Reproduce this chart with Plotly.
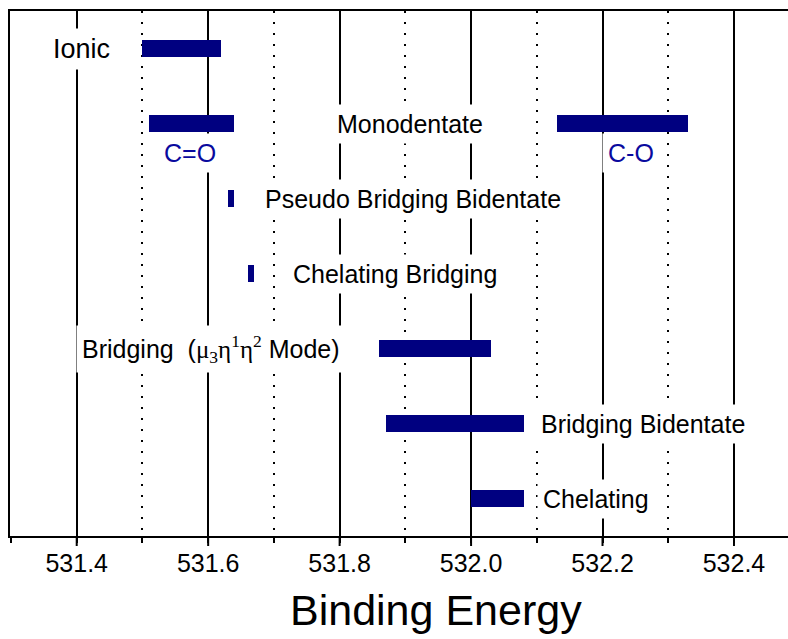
import plotly.graph_objects as go

# ---- data ----
rows = [0, 1, 1, 2, 3, 4, 5, 6]
starts = [531.50, 531.51, 532.13, 531.63, 531.66, 531.86, 531.87, 532.00]
ends = [531.62, 531.64, 532.33, 531.64, 531.67, 532.03, 532.08, 532.08]

label_texts = [
    "Ionic",
    "Monodentate",
    "C=O",
    "C-O",
    "Pseudo Bridging Bidentate",
    "Chelating Bridging",
    "Bridging\u00a0\u00a0(<span style=\"font-family:'Liberation Serif', 'Times New Roman'\">μ<sub>3</sub>η<sup>1</sup>η<sup>2</sup></span> Mode)",
    "Bridging Bidentate",
    "Chelating",
]
label_x = [531.4075, 531.9078, 531.5725, 532.2434, 531.9123, 531.8845, 531.6036, 532.262, 532.19]
label_y = [0, 1, 1.39, 1.39, 2, 3, 4, 5, 6]
label_colors = ["black", "black", "#0a0a9e", "#0a0a9e", "black", "black", "black", "black", "black"]
label_sizes = [27, 25, 25, 25, 25, 25, 25, 25, 25]

tick_vals = [531.4, 531.6, 531.8, 532.0, 532.2, 532.4]
tick_text = ["531.4", "531.6", "531.8", "532.0", "532.2", "532.4"]
x_title = "Binding Energy"

FONT = "Arial, 'Liberation Sans', sans-serif"
PLOT_H = 639 - 11 - 103
PLOT_W = 788 - 10

fig = go.Figure()
fig.add_trace(go.Bar(
    orientation="h",
    y=rows,
    x=[e - s for s, e in zip(starts, ends)],
    base=starts,
    width=0.225,
    marker=dict(color="#000080", line=dict(width=0)),
    showlegend=False,
    hoverinfo="skip",
))

for t, x, y, c, s in zip(label_texts, label_x, label_y, label_colors, label_sizes):
    fig.add_annotation(
        x=x, y=y, xref="x", yref="y", text=t, showarrow=False,
        xanchor="center", yanchor="middle",
        font=dict(family=FONT, size=s, color=c),
        bgcolor="white", borderpad=5,
    )

# major tick marks (outside, 10px)
for tv in tick_vals:
    fig.add_shape(type="line", xref="x", yref="paper", x0=tv, x1=tv,
                  y0=0, y1=-10 / PLOT_H, line=dict(color="black", width=2))

# axis title
fig.add_annotation(
    x=(436 - 10) / PLOT_W, y=-74 / PLOT_H, xref="paper", yref="paper",
    text=x_title, showarrow=False, xanchor="center", yanchor="middle",
    font=dict(family=FONT, size=43, color="black"),
)

fig.update_layout(
    width=788, height=639,
    margin=dict(l=10, r=0, t=11, b=103),
    paper_bgcolor="white", plot_bgcolor="white",
    font=dict(family=FONT, color="black"),
    bargap=0,
    xaxis=dict(
        range=[531.2985, 532.4822],
        tickmode="array", tickvals=tick_vals, ticktext=tick_text,
        tickfont=dict(size=25, family=FONT, color="black"),
        ticks="outside", ticklen=4, tickwidth=2, tickcolor="black",
        showline=True, linewidth=2, linecolor="black", mirror=True,
        showgrid=True, gridcolor="black", gridwidth=2,
        zeroline=False,
        minor=dict(dtick=0.1, tick0=531.3, ticks="outside", ticklen=5, tickwidth=2,
                   tickcolor="black", showgrid=True, gridcolor="black",
                   gridwidth=1.5, griddash="2px,9px"),
    ),
    yaxis=dict(
        range=[6.5, -0.5],
        showticklabels=False, ticks="", showgrid=False, zeroline=False,
        showline=True, linewidth=2, linecolor="black", mirror=False,
    ),
)

fig.write_html("out.html")
